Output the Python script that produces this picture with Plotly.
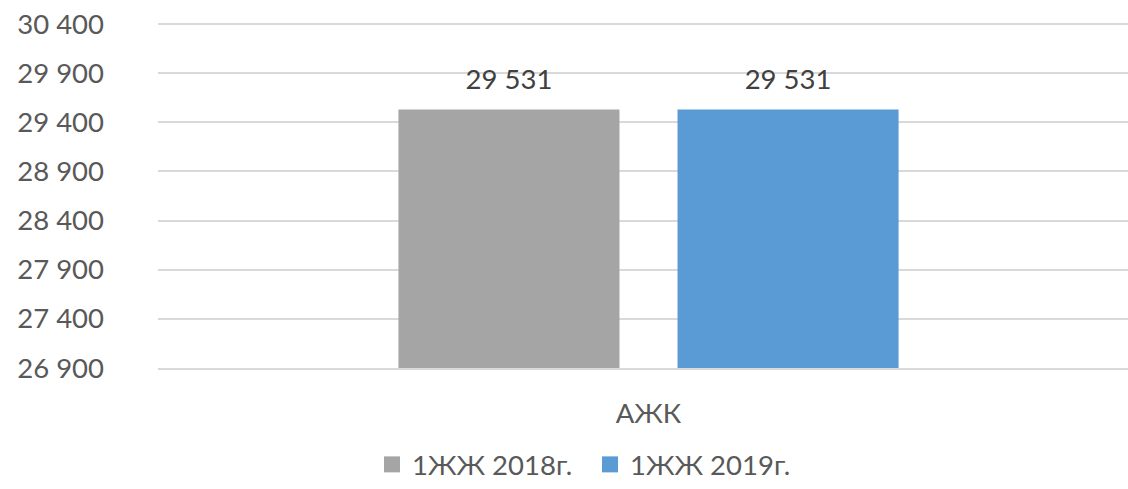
import plotly.graph_objects as go

categories = ["АЖК"]
series_names = ["1ЖЖ 2018г.", "1ЖЖ 2019г."]
values_2018 = [29531]
values_2019 = [29531]
colors = ["#A5A5A5", "#5B9BD5"]

font_family = "Lato, 'Open Sans', sans-serif"
FS = 27.5
W = 1140

fig = go.Figure()
for i, (name, vals, col) in enumerate(zip(series_names, [values_2018, values_2019], colors)):
    fig.add_trace(go.Bar(
        x=categories, y=vals, name=name, marker=dict(color=col, line=dict(width=0)),
        offsetgroup=str(i), showlegend=False,
    ))
    fig.add_trace(go.Scatter(
        x=categories, y=vals, mode="markers+text", showlegend=False,
        offsetgroup=str(i), hoverinfo="skip",
        marker=dict(size=20, opacity=0),
        text=[f"{v:,}".replace(",", " ") for v in vals], textposition="top center",
        textfont=dict(size=FS, color="#404040", family=font_family),
        cliponaxis=False,
    ))
    # legend entry with a larger square swatch
    fig.add_trace(go.Scatter(
        x=[None], y=[None], mode="markers", name=name, offsetgroup=str(i),
        marker=dict(symbol="square", size=17, color=col), showlegend=True,
    ))

fig.update_layout(
    width=W, height=489,
    margin=dict(l=158, r=1, t=22, b=121, autoexpand=False),
    paper_bgcolor="white", plot_bgcolor="white",
    barmode="group", bargap=0.431, bargroupgap=0.208,
    scattermode="group", scattergap=0.431,
    separators=", ",
    font=dict(family=font_family, size=FS, color="#595959"),
    showlegend=True,
    legend=dict(orientation="h", x=590 / W, xanchor="center", xref="container",
                y=0.0, yanchor="bottom", yref="container",
                font=dict(size=FS, color="#595959"), itemsizing="trace",
                entrywidth=173, traceorder="normal"),
    yaxis=dict(range=[26900, 30420], dtick=500, tick0=26900, tickformat=",d",
               showgrid=True, gridcolor="#D9D9D9", gridwidth=2, zeroline=False,
               showline=False, ticks="", ticklabelstandoff=53, automargin=False,
               tickfont=dict(size=FS, color="#595959")),
    xaxis=dict(showline=True, linecolor="#D9D9D9", linewidth=2, ticks="", automargin=False,
               tickfont=dict(size=FS, color="#595959"), ticklabelstandoff=20),
)

fig.write_html("out.html", config={"displayModeBar": False},
               post_script="document.body.style.margin='0';document.body.style.overflow='hidden';")
